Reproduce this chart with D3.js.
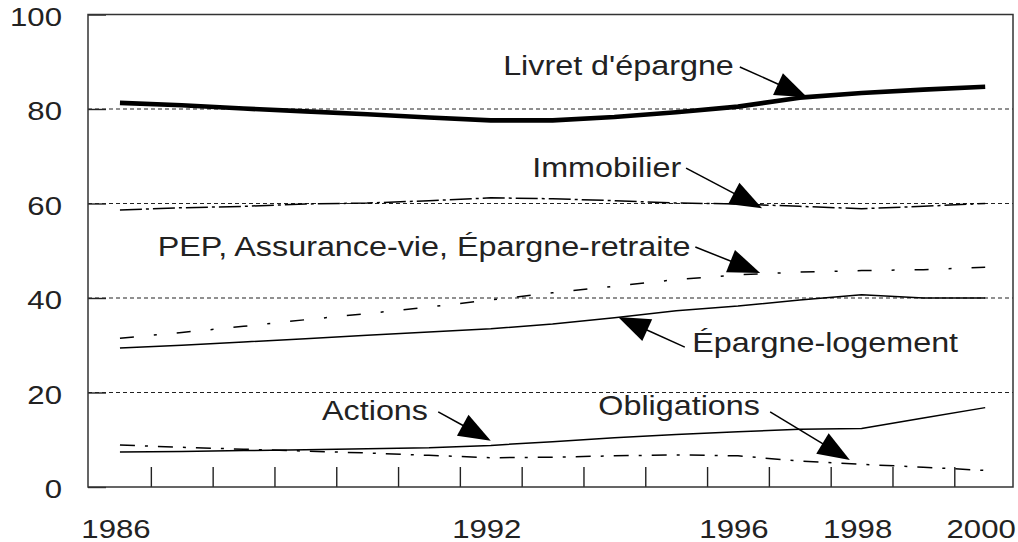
<!DOCTYPE html>
<html><head><meta charset="utf-8">
<script src="https://cdn.jsdelivr.net/npm/d3@7"></script>
<style>html,body{margin:0;padding:0;background:#fff;} svg{display:block;}</style>
</head><body>
<svg id="chart" width="1018" height="542"></svg>
<script>
// ---------- data ----------
const years = [1986,1987,1988,1989,1990,1991,1992,1993,1994,1995,1996,1997,1998,1999,2000];
const livretEpargne   = [81.3,80.8,80.1,79.5,78.9,78.2,77.6,77.6,78.3,79.3,80.5,82.4,83.4,84.1,84.7];
const immobilier      = [58.6,59.1,59.4,59.9,60.1,60.6,61.2,61.0,60.6,60.1,59.9,59.4,58.9,59.4,60.0];
const pepAssurance    = [31.5,32.7,34.0,35.4,36.7,38.1,39.6,41.1,42.5,43.9,44.9,45.5,45.8,46.0,46.5];
const epargneLogement = [29.4,30.0,30.7,31.4,32.1,32.8,33.5,34.5,35.8,37.3,38.3,39.6,40.7,40.0,40.0];
const actions         = [7.4,7.5,7.7,7.9,8.1,8.3,8.8,9.6,10.4,11.1,11.7,12.2,12.4,14.6,16.8];
const obligations     = [8.9,8.4,8.0,7.6,7.2,6.7,6.2,6.3,6.6,6.8,6.6,5.5,4.8,4.2,3.5];

const yTickValues = [0,20,40,60,80,100];
const gridValues  = [20,40,60,80];
const xTickValues = [1986.5,1987.5,1988.5,1989.5,1990.5,1991.5,1992.5,1993.5,1994.5,1995.5,1996.5,1997.5,1998.5,1999.5];
const xLabelYears = [1986,1992,1996,1998,2000];

const labelTexts = ["Livret d'épargne","Immobilier","PEP, Assurance-vie, Épargne-retraite","Épargne-logement","Actions","Obligations"];
// label anchor (year, value), arrow start (year, value), arrow tip (year, value)
const labelAnchor = [[1992.20,87.2],[1992.67,65.6],[1986.61,48.9],[1995.26,28.6],[1989.27,14.2],[1993.74,15.2]];
const arrowStart  = [[1996.03,88.9],[1995.16,67.5],[1995.31,50.8],[1995.14,29.6],[1991.15,15.9],[1996.52,15.9]];
const arrowTip    = [[1997.12,82.5],[1996.39,59.0],[1996.36,45.3],[1994.06,36.0],[1992.00,9.8],[1997.81,5.7]];

// ---------- chart ----------
const svg = d3.select("#chart");
const FONT = "'Liberation Sans', Arial, Helvetica, sans-serif";
const SX = 1.175, FS = 26.5;
const ink = "#222";

const x = d3.scaleLinear().domain([1985.483, 2000.45]).range([88, 1013]);
const y = d3.scaleLinear().domain([0, 100]).range([487, 14.5]);

// gridlines
svg.append("g").selectAll("line").data(gridValues).join("line")
  .attr("x1", x.range()[0]).attr("x2", x.range()[1])
  .attr("y1", d => y(d)).attr("y2", d => y(d))
  .attr("stroke", "#222").attr("stroke-width", 1.2)
  .attr("stroke-dasharray", "4,3");

// axes (inner ticks)
const xAxis = svg.append("g").attr("transform", `translate(0,${y(0)})`)
  .call(d3.axisBottom(x).tickValues(xTickValues).tickSize(-20).tickFormat(""));
const yAxis = svg.append("g").attr("transform", `translate(${x.range()[0]},0)`)
  .call(d3.axisLeft(y).tickValues(yTickValues).tickSize(-18).tickFormat(""));
[xAxis, yAxis].forEach(a => {
  a.select(".domain").remove();
  a.selectAll(".tick line").attr("stroke", "#222").attr("stroke-width", 1.4);
});

// frame
svg.append("rect")
  .attr("x", x.range()[0]).attr("y", y(100))
  .attr("width", x.range()[1] - x.range()[0]).attr("height", y(0) - y(100))
  .attr("fill", "none").attr("stroke", "#333").attr("stroke-width", 1.5);

// y labels
svg.append("g").selectAll("text").data(yTickValues).join("text")
  .attr("transform", d => `translate(62,${y(d) + 11}) scale(${SX},1)`)
  .attr("text-anchor", "end").attr("font-family", FONT).attr("font-size", FS)
  .attr("fill", ink).text(d => d);

// x labels
svg.append("g").selectAll("text").data(xLabelYears).join("text")
  .attr("transform", d => `translate(${x(d) - 4},538) scale(${SX},1)`)
  .attr("text-anchor", "middle").attr("font-family", FONT).attr("font-size", FS)
  .attr("fill", ink).text(d => d);

// series
const seriesDefs = [
  {values: livretEpargne,   width: 4.6, dash: null},
  {values: immobilier,      width: 1.5, dash: "22,4,3,4"},
  {values: pepAssurance,    width: 1.5, dash: "14,20,3,20"},
  {values: epargneLogement, width: 1.5, dash: null},
  {values: actions,         width: 1.5, dash: null},
  {values: obligations,     width: 1.5, dash: "15,10,3,10"}
];
const line = d3.line().x((d, i) => x(years[i])).y(d => y(d));
svg.append("g").selectAll("path").data(seriesDefs).join("path")
  .attr("d", d => line(d.values))
  .attr("fill", "none").attr("stroke", "#000")
  .attr("stroke-width", d => d.width)
  .attr("stroke-linejoin", "round")
  .attr("stroke-dasharray", d => d.dash);

// annotations
const ann = svg.append("g");
labelTexts.forEach((t, i) => {
  ann.append("text")
    .attr("transform", `translate(${x(labelAnchor[i][0])},${y(labelAnchor[i][1])}) scale(${SX},1)`)
    .attr("font-family", FONT).attr("font-size", 27.5).attr("fill", ink).text(t);
  const sx = x(arrowStart[i][0]), sy = y(arrowStart[i][1]);
  const tx = x(arrowTip[i][0]),   ty = y(arrowTip[i][1]);
  const dx = tx - sx, dy = ty - sy, L = Math.hypot(dx, dy);
  const ux = dx / L, uy = dy / L, HL = 32, HW = 12;
  const bx = tx - ux * HL, by = ty - uy * HL;
  ann.append("line").attr("x1", sx).attr("y1", sy).attr("x2", bx + ux * 4).attr("y2", by + uy * 4)
    .attr("stroke", "#000").attr("stroke-width", 1.5);
  ann.append("path")
    .attr("d", `M${tx},${ty}L${bx - uy * HW},${by + ux * HW}L${bx + uy * HW},${by - ux * HW}Z`)
    .attr("fill", "#000");
});
</script>
</body></html>
